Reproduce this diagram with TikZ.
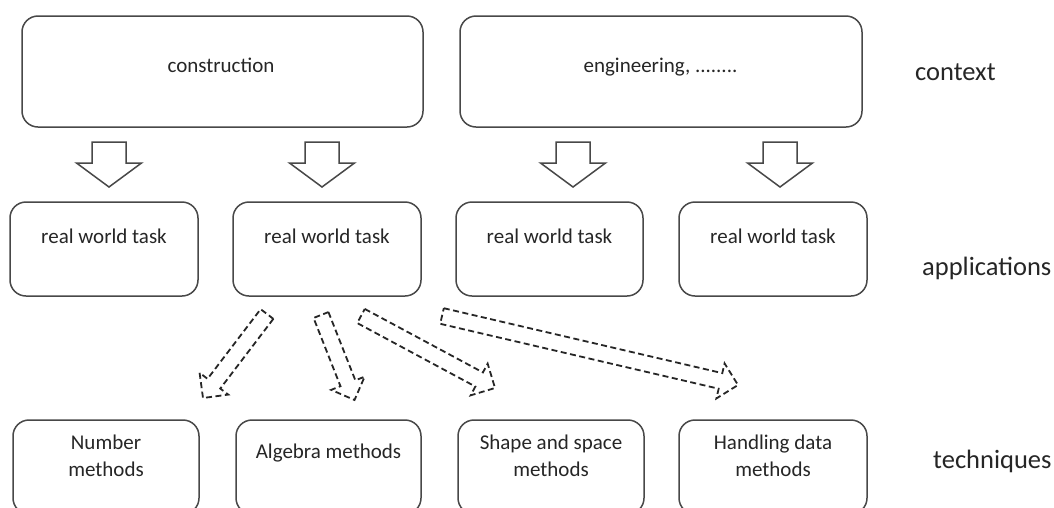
\documentclass[tikz,border=0pt]{standalone}
\usepackage{fontspec}
\setmainfont{Carlito}
\usetikzlibrary{calc}
\definecolor{linec}{RGB}{72,72,72}
\definecolor{textc}{RGB}{38,38,38}
\newcommand\hollowarrow[6]{%
  % #1 style, #2 start, #3 end, #4 shaft half width, #5 head half width, #6 head length
  \coordinate (hbase) at ($(#3)!#6!(#2)$);
  \draw[#1] ($(#2)!#4!90:(#3)$) -- ($(hbase)!#4!90:(#3)$) -- ($(hbase)!#5!90:(#3)$)
    -- (#3) -- ($(hbase)!#5!-90:(#3)$) -- ($(hbase)!#4!-90:(#3)$) -- ($(#2)!#4!-90:(#3)$) -- cycle;
}
\begin{document}
\begin{tikzpicture}[x=1pt,y=-1pt,
  box/.style 2 args={draw=linec, line width=1.5pt, rounded corners=16pt, inner sep=0pt,
    minimum width=#1, minimum height=#2},
  txt/.style={font=\fontsize{21}{27}\selectfont, text=textc, inner sep=0pt, align=center},
  lab/.style={font=\fontsize{26.5}{30}\selectfont, text=textc, inner sep=0pt, anchor=base west},
  solidarrow/.style={draw=linec, line width=1.5pt, fill=white, line join=miter},
  dasharrow/.style={draw=black!85, line width=1.8pt, dash pattern=on 6pt off 3.5pt, line join=miter}]
\useasboundingbox (0,0) rectangle (1054,507);
\clip (0,0) rectangle (1054,507);
\fill[white] (0,0) rectangle (1054,507);

% context boxes
\node[box={401pt}{111pt}] (ctx1) at (222.5,71.5) {};
\node[box={402pt}{111pt}] (ctx2) at (661,71.5) {};
\node[txt, anchor=base] (ctx1t) at (221,72) {construction};
\node[txt, anchor=base] (ctx2t) at (660.5,72) {engineering, ........};

% application boxes
\node[box={188pt}{94pt}] (m1) at (104,249) {};
\node[box={188pt}{94pt}] (m2) at (327,249) {};
\node[box={187pt}{94pt}] (m3) at (549.5,249) {};
\node[box={188pt}{94pt}] (m4) at (773,249) {};
\foreach \i in {1,...,4} {
  \node[txt, anchor=base] (m\i t) at ($(m\i.north)+(0,42.5)$) {real world task};
}

% technique boxes
\node[box={186pt}{94pt}] (b1) at (106,467) {};
\node[box={185pt}{94pt}] (b2) at (328.5,467) {};
\node[box={186pt}{94pt}] (b3) at (551,467) {};
\node[box={188pt}{94pt}] (b4) at (773,467) {};
\node[txt, anchor=base] (b1t) at ($(b1.north)+(0,57)$) {Number\\methods};
\node[txt, anchor=base] (b2t) at ($(b2.north)+(0,39)$) {Algebra methods};
\node[txt, anchor=base] (b3t) at ($(b3.north)+(0,57)$) {Shape and space\\methods};
\node[txt, anchor=base] (b4t) at ($(b4.north)+(0,57)$) {Handling data\\methods};

% level labels
\node[lab] (lctx) at (915,80) {context};
\node[lab] (lapp) at (922,275) {applications};
\node[lab] (ltech) at (933,468) {techniques};

% solid hollow arrows: context -> applications
\coordinate (a1s) at (109,142);
\coordinate (a1e) at (109,187);
\coordinate (a2s) at (322,142);
\coordinate (a2e) at (322,187);
\coordinate (a3s) at (573,142);
\coordinate (a3e) at (573,187);
\coordinate (a4s) at (780,142);
\coordinate (a4e) at (780,187);
\foreach \i in {1,...,4} {
  \hollowarrow{solidarrow}{a\i s}{a\i e}{17pt}{32.5pt}{24pt}
}

% dashed hollow arrows: real world task -> techniques
\coordinate (d1s) at (267,314);
\coordinate (d1e) at (203,398);
\coordinate (d2s) at (321,315);
\coordinate (d2e) at (354.5,400);
\coordinate (d3s) at (361,316);
\coordinate (d3e) at (495,388);
\coordinate (d4s) at (442,316);
\coordinate (d4e) at (738,385);
\foreach \i in {1,...,4} {
  \hollowarrow{dasharrow}{d\i s}{d\i e}{8pt}{18pt}{18pt}
}
\end{tikzpicture}
\end{document}
